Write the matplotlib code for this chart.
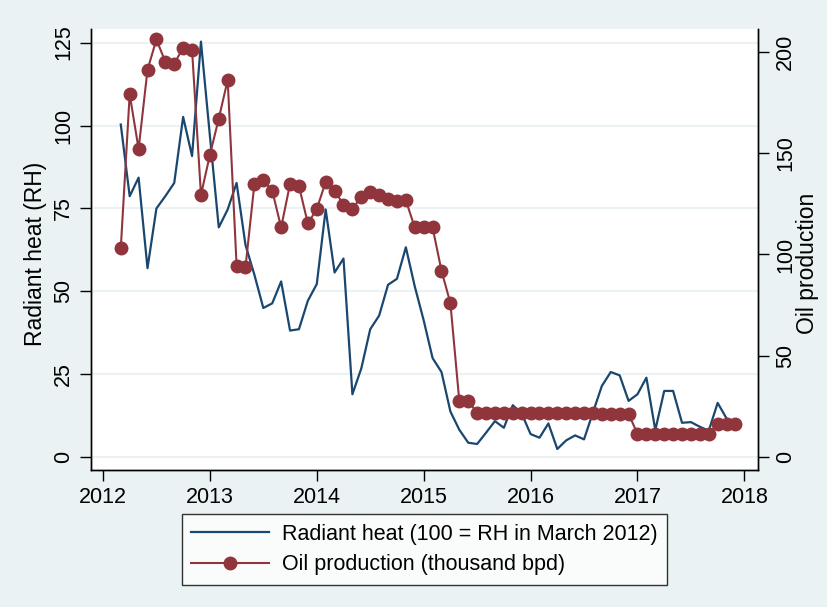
import numpy as np
import matplotlib.pyplot as plt

plt.rcParams['font.family'] = ['Liberation Sans', 'DejaVu Sans']

# monthly data, March 2012 to December 2017
start_year = 2012
start_month = 3

radiant_heat = [100.3, 78.7, 84.3, 57.0, 75.0, 78.7, 82.7, 102.6, 90.8, 125.3,
                97.0, 69.3, 74.7, 82.7, 64.0, 55.0, 45.0, 46.4, 53.0, 38.2, 38.6, 47.2,
                52.2, 74.7, 55.7, 59.9, 19.0, 26.8, 38.6, 42.7, 52.0, 53.8, 63.3, 51.5,
                41.3, 29.9, 25.7, 13.8, 8.3, 4.4, 4.0, 7.4, 10.9, 8.9, 15.7, 13.2,
                7.0, 5.9, 10.2, 2.5, 5.1, 6.6, 5.4, 13.5, 21.5, 25.7, 24.7, 17.0,
                19.0, 24.0, 8.2, 20.0, 20.0, 10.4, 10.6, 9.2, 8.0, 16.4, 11.7, 10.0]

oil_production = [103, 179, 152, 191, 206, 195, 194, 202, 201, 129.4,
                  149, 167, 186, 94.5, 93.8, 134.8, 136.5, 131.5, 113.3, 134.8, 133.7, 115.3,
                  122.4, 135.8, 131.5, 124.5, 122.4, 128.5, 130.8, 129.5, 127.4, 126.5, 126.7, 113.3,
                  113.3, 113.3, 92, 76, 27.7, 27.7, 22, 22, 22, 22, 22, 22,
                  22, 22, 22, 22, 22, 22, 22, 22, 21.5, 21.5, 21.5, 21.5,
                  11.5, 11.5, 11.5, 11.5, 11.5, 11.5, 11.5, 11.5, 11.5, 16.4, 16.4, 16.4]

x_years = [2012, 2013, 2014, 2015, 2016, 2017, 2018]
left_ticks = [0, 25, 50, 75, 100, 125]
right_ticks = [0, 50, 100, 150, 200]

t = start_year + (start_month - 1) / 12 + np.arange(len(radiant_heat)) / 12

bg = '#EAF2F3'
blue = '#1A476F'
red = '#90353B'
fs = 15.5

fig = plt.figure(figsize=(8.28, 6.07), dpi=100, facecolor=bg)
ax = fig.add_axes([0.1095, 0.2257, 0.8063, 0.726])
ax.set_facecolor('white')

ax.plot(t, radiant_heat, color=blue, lw=1.6, label='Radiant heat (100 = RH in March 2012)')
ax.set_xlim(2011.885, 2018.13)
ax.set_ylim(-3.83, 129.0)
ax.set_yticks(left_ticks)
ax.set_xticks(x_years)
ax.grid(axis='y', color=bg, lw=1.5)
ax.set_axisbelow(True)
ax.tick_params(axis='both', length=8, width=1, labelsize=fs, pad=4)
for lab in ax.get_yticklabels():
    lab.set_rotation(90)
    lab.set_va('center')
ax.set_ylabel('Radiant heat (RH)', fontsize=16.5)
ax.yaxis.set_label_coords(-0.065, 0.49)

ax2 = ax.twinx()
ax2.plot(t, oil_production, color=red, lw=1.5, marker='o', ms=9,
         label='Oil production (thousand bpd)')
ax2.set_ylim(-6.26, 211.0)
ax2.set_yticks(right_ticks)
ax2.tick_params(axis='y', length=8, width=1, labelsize=fs, pad=4)
for lab in ax2.get_yticklabels():
    lab.set_rotation(90)
    lab.set_va('center')
ax2.set_ylabel('Oil production', fontsize=16.5)
ax2.yaxis.set_label_coords(1.0565, 0.47)

for a in (ax, ax2):
    a.spines['top'].set_visible(False)
    for s in ('left', 'right', 'bottom'):
        a.spines[s].set_linewidth(1)

h1, l1 = ax.get_legend_handles_labels()
h2, l2 = ax2.get_legend_handles_labels()
leg = fig.legend(h1 + h2, l1 + l2, loc='center', bbox_to_anchor=(0.5127, 0.0947),
                 fontsize=fs, frameon=True, fancybox=False, edgecolor='black',
                 handlelength=3.6, borderpad=0.45, labelspacing=0.45, handletextpad=0.6,
                 borderaxespad=0)
leg.get_frame().set_linewidth(1)

fig.savefig('out.png', dpi=100, facecolor=bg)
